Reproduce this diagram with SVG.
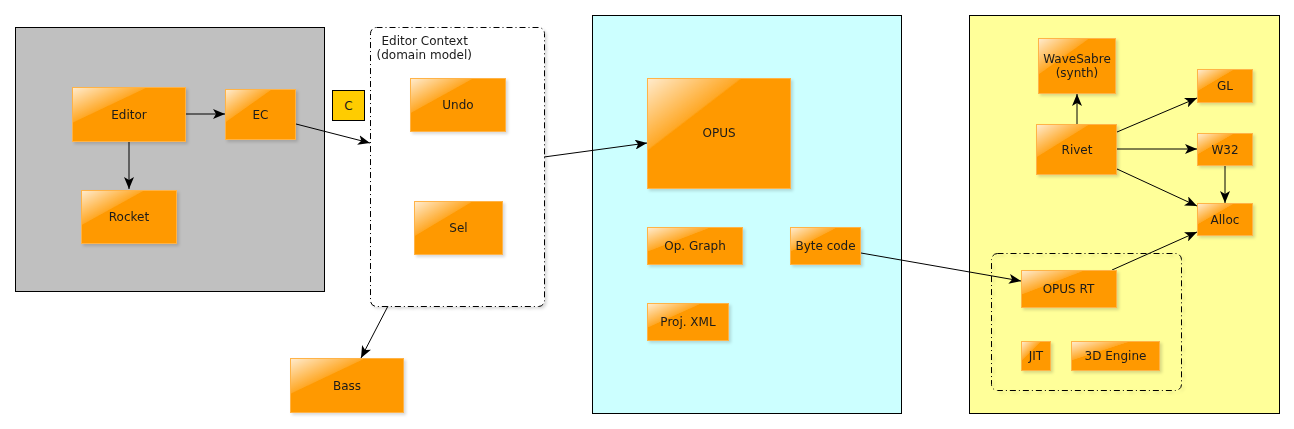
<svg xmlns="http://www.w3.org/2000/svg" width="1294" height="429" viewBox="0 0 1294 429">
<style>
.node{fill:#ff9900;stroke:#ffb347;stroke-width:1}
.gloss{fill:url(#gl);stroke:none}
.t{font-family:"DejaVu Sans",sans-serif;font-size:12px;fill:#1a1a1a;text-anchor:middle;dominant-baseline:central}
.tl{font-family:"DejaVu Sans",sans-serif;font-size:12px;fill:#1a1a1a}
.cont{stroke:#000;stroke-width:1}
.dash{fill:none;stroke:#000;stroke-width:1;stroke-dasharray:6 3 1 3}
.edge{stroke:#000;stroke-width:1;fill:none;marker-end:url(#arr)}
</style>
<defs>
<linearGradient id="gl" x1="0" y1="0" x2="1" y2="1">
<stop offset="0" stop-color="#fff" stop-opacity="0.8"/>
<stop offset="0.32" stop-color="#fff" stop-opacity="0.15"/>
<stop offset="0.33" stop-color="#fff" stop-opacity="0"/>
<stop offset="1" stop-color="#fff" stop-opacity="0"/>
</linearGradient>
<marker id="arr" viewBox="0 0 12 10" refX="12" refY="5" markerWidth="12" markerHeight="10" markerUnits="userSpaceOnUse" orient="auto">
<path d="M0,0 L12,5 L0,10 L3,5 Z" fill="#000"/>
</marker>
<filter id="sh" x="-10%" y="-10%" width="130%" height="130%">
<feDropShadow dx="2" dy="2" stdDeviation="1.5" flood-color="#000" flood-opacity="0.15"/>
</filter>
</defs>

<g id="containers">
<rect id="editor-area" class="cont" x="15.5" y="27.5" width="309" height="264" fill="#c0c0c0"/>
<rect id="opus-area" class="cont" x="592.5" y="15.5" width="309" height="398" fill="#ccffff"/>
<rect id="runtime-area" class="cont" x="969.5" y="15.5" width="310" height="398" fill="#ffff99"/>
</g>

<g id="editor-context" filter="url(#sh)">
<rect x="370.5" y="27.5" width="174" height="279" rx="6" fill="#fff"/>
<rect class="dash" x="370.5" y="27.5" width="174" height="279" rx="6"/>
<text class="tl" x="381.5" y="45">Editor Context</text>
<text class="tl" x="376.5" y="58.5">(domain model)</text>
</g>

<g id="opusrt-group" filter="url(#sh)">
<rect class="dash" x="991.5" y="253.5" width="190" height="137" rx="6"/>
</g>

<g id="connectors">
<line class="edge" x1="186" y1="114" x2="225" y2="114"/>
<line class="edge" x1="129" y1="142" x2="129" y2="189"/>
<line class="edge" x1="296" y1="124" x2="370" y2="143"/>
<line class="edge" x1="544" y1="157" x2="647" y2="143"/>
<line class="edge" x1="388" y1="306" x2="361" y2="358"/>
<line class="edge" x1="861" y1="253" x2="1021" y2="281"/>
<line class="edge" x1="1112" y1="270" x2="1197" y2="232"/>
<line class="edge" x1="1077" y1="124" x2="1077" y2="94"/>
<line class="edge" x1="1117" y1="132" x2="1197" y2="98"/>
<line class="edge" x1="1117" y1="149" x2="1197" y2="149"/>
<line class="edge" x1="1117" y1="169" x2="1197" y2="206"/>
<line class="edge" x1="1225" y1="166" x2="1225" y2="203"/>
</g>

<g id="C">
<rect x="332.5" y="90.5" width="32" height="30" fill="#ffcc00" stroke="#000"/>
<text class="t" x="348.5" y="105.5">C</text>
</g>

<g id="Editor" filter="url(#sh)"><rect class="node" x="72.5" y="87.5" width="113" height="54"/><rect class="gloss" x="73" y="88" width="112" height="53"/><text class="t" x="129" y="114.5">Editor</text></g>
<g id="Rocket" filter="url(#sh)"><rect class="node" x="81.5" y="190.5" width="95" height="53"/><rect class="gloss" x="82" y="191" width="94" height="52"/><text class="t" x="129" y="216.5">Rocket</text></g>
<g id="EC" filter="url(#sh)"><rect class="node" x="225.5" y="89.5" width="70" height="50"/><rect class="gloss" x="226" y="90" width="69" height="49"/><text class="t" x="260.5" y="114.5">EC</text></g>
<g id="Undo" filter="url(#sh)"><rect class="node" x="410.5" y="78.5" width="95" height="53"/><rect class="gloss" x="411" y="79" width="94" height="52"/><text class="t" x="458" y="104.5">Undo</text></g>
<g id="Sel" filter="url(#sh)"><rect class="node" x="414.5" y="201.5" width="88" height="53"/><rect class="gloss" x="415" y="202" width="87" height="52"/><text class="t" x="458.5" y="228">Sel</text></g>
<g id="Bass" filter="url(#sh)"><rect class="node" x="290.5" y="358.5" width="113" height="54"/><rect class="gloss" x="291" y="359" width="112" height="53"/><text class="t" x="347" y="385.5">Bass</text></g>
<g id="OPUS" filter="url(#sh)"><rect class="node" x="647.5" y="78.5" width="143" height="110"/><rect class="gloss" x="648" y="79" width="142" height="109"/><text class="t" x="719" y="133">OPUS</text></g>
<g id="OpGraph" filter="url(#sh)"><rect class="node" x="647.5" y="227.5" width="95" height="37"/><rect class="gloss" x="648" y="228" width="94" height="36"/><text class="t" x="695" y="246">Op. Graph</text></g>
<g id="ByteCode" filter="url(#sh)"><rect class="node" x="790.5" y="227.5" width="70" height="37"/><rect class="gloss" x="791" y="228" width="69" height="36"/><text class="t" x="825.5" y="246">Byte code</text></g>
<g id="ProjXML" filter="url(#sh)"><rect class="node" x="647.5" y="303.5" width="81" height="37"/><rect class="gloss" x="648" y="304" width="80" height="36"/><text class="t" x="688" y="322">Proj. XML</text></g>
<g id="WaveSabre" filter="url(#sh)"><rect class="node" x="1038.5" y="38.5" width="77" height="55"/><rect class="gloss" x="1039" y="39" width="76" height="54"/><text class="t" x="1077" y="58.5">WaveSabre</text><text class="t" x="1077" y="73">(synth)</text></g>
<g id="GL" filter="url(#sh)"><rect class="node" x="1197.5" y="69.5" width="55" height="33"/><rect class="gloss" x="1198" y="70" width="54" height="32"/><text class="t" x="1225" y="86">GL</text></g>
<g id="Rivet" filter="url(#sh)"><rect class="node" x="1036.5" y="124.5" width="80" height="50"/><rect class="gloss" x="1037" y="125" width="79" height="49"/><text class="t" x="1077" y="149.5">Rivet</text></g>
<g id="W32" filter="url(#sh)"><rect class="node" x="1197.5" y="133.5" width="55" height="32"/><rect class="gloss" x="1198" y="134" width="54" height="31"/><text class="t" x="1225" y="149.5">W32</text></g>
<g id="Alloc" filter="url(#sh)"><rect class="node" x="1197.5" y="203.5" width="55" height="32"/><rect class="gloss" x="1198" y="204" width="54" height="31"/><text class="t" x="1225" y="219.5">Alloc</text></g>
<g id="OPUSRT" filter="url(#sh)"><rect class="node" x="1021.5" y="270.5" width="95" height="37"/><rect class="gloss" x="1022" y="271" width="94" height="36"/><text class="t" x="1068.5" y="289">OPUS RT</text></g>
<g id="JIT" filter="url(#sh)"><rect class="node" x="1021.5" y="341.5" width="29" height="29"/><rect class="gloss" x="1022" y="342" width="28" height="28"/><text class="t" x="1036" y="356">JIT</text></g>
<g id="Engine3D" filter="url(#sh)"><rect class="node" x="1071.5" y="341.5" width="88" height="29"/><rect class="gloss" x="1072" y="342" width="87" height="28"/><text class="t" x="1115.5" y="356">3D Engine</text></g>
</svg>
